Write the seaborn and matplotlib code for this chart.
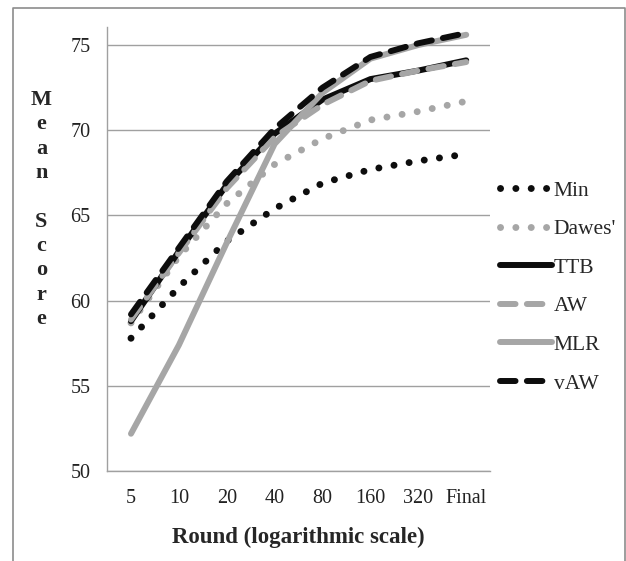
import pandas as pd
import matplotlib.pyplot as plt
import seaborn as sns
from matplotlib.lines import Line2D

# data
rounds = ["5", "10", "20", "40", "80", "160", "320", "Final"]
min_vals = [57.8, 60.8, 63.5, 65.4, 66.9, 67.7, 68.2, 68.6]
dawes_vals = [58.7, 62.6, 65.7, 68.0, 69.5, 70.6, 71.1, 71.7]
ttb_vals = [58.8, 62.9, 66.8, 69.8, 71.8, 73.0, 73.5, 74.1]
aw_vals = [58.9, 62.8, 66.6, 69.6, 71.5, 72.9, 73.5, 74.0]
mlr_vals = [52.2, 57.4, 63.4, 69.2, 72.2, 74.2, 75.0, 75.6]
vaw_vals = [59.2, 63.1, 67.0, 70.1, 72.5, 74.3, 75.1, 75.7]
y_ticks = [50, 55, 60, 65, 70, 75]

series = {"Min": min_vals, "Dawes'": dawes_vals, "TTB": ttb_vals,
          "AW": aw_vals, "MLR": mlr_vals, "vAW": vaw_vals}
df = pd.DataFrame([{"pos": i, "round": r, "strategy": k, "score": v[i]}
                   for k, v in series.items() for i, r in enumerate(rounds)])

sns.set_style("white")
plt.rcParams["font.family"] = ["Liberation Serif", "DejaVu Serif"]

black = "#0d0d0d"
gray = "#a6a6a6"
styles = {
    "Min": dict(color=black, lw=5.0, ls=(0, (0.01, 2.2))),
    "Dawes'": dict(color=gray, lw=5.0, ls=(0, (0.01, 2.2))),
    "TTB": dict(color=black, lw=4.3, ls="-"),
    "AW": dict(color=gray, lw=4.3, ls=(0, (2.6, 1.9))),
    "MLR": dict(color=gray, lw=4.3, ls="-"),
    "vAW": dict(color=black, lw=4.3, ls=(0, (2.6, 1.9))),
}

fig = plt.figure(figsize=(6.26, 5.61), dpi=100)
ax = fig.add_axes([0.171, 0.160, 0.612, 0.792])

for name in series:
    st = styles[name]
    sns.lineplot(data=df[df["strategy"] == name], x="pos", y="score", ax=ax,
                 color=st["color"], linewidth=st["lw"], linestyle=st["ls"],
                 label=name, solid_capstyle="round", dash_capstyle="round",
                 zorder=3)

ax.set_xlim(-0.5, 7.5)
ax.set_ylim(50, 76.06)
ax.set_yticks(y_ticks)
ax.set_xticks(range(len(rounds)))
ax.set_xticklabels(rounds)
ax.yaxis.grid(True, color="#a0a0a0", lw=1)
ax.set_axisbelow(True)
for s in ["top", "right"]:
    ax.spines[s].set_visible(False)
for s in ["left", "bottom"]:
    ax.spines[s].set_color("#a0a0a0")
    ax.spines[s].set_linewidth(1)
ax.tick_params(axis="both", length=5, width=1, color="#a0a0a0",
               labelsize=14.5, labelcolor="#222222", direction="out")
ax.tick_params(axis="x", pad=8)
ax.tick_params(axis="y", pad=7)

ax.set_xlabel("Round (logarithmic scale)", fontsize=16.5, fontweight="bold",
              labelpad=13)
ax.set_ylabel("")
fig.text(0.066, 1 - 90 / 561, "\n".join("Mean Score"), fontsize=16,
         fontweight="bold", ha="center", va="top", linespacing=1.29)

leg = ax.legend(loc="upper left", bbox_to_anchor=(0.785, 1 - 172 / 561),
                bbox_transform=fig.transFigure, frameon=False, fontsize=15.5,
                handlelength=2.4, handletextpad=0.1, labelspacing=0.86,
                borderaxespad=0)

# outer border
fig.add_artist(Line2D([13 / 626, 13 / 626, 625 / 626, 625 / 626],
                      [0, 1 - 7.5 / 561, 1 - 7.5 / 561, 0],
                      transform=fig.transFigure, color="#8c8c8c", lw=1.2))

fig.savefig("out.png", dpi=100)
